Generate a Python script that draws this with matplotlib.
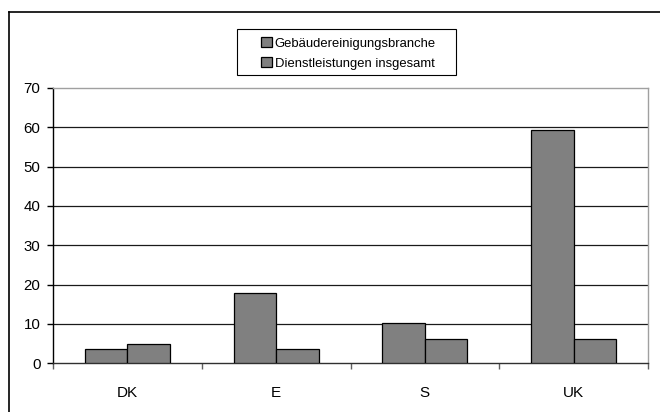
import numpy as np
import matplotlib
matplotlib.use('Agg')
import matplotlib.pyplot as plt
from matplotlib.lines import Line2D
from matplotlib.patches import Rectangle

plt.rcParams['font.family'] = ['Liberation Sans', 'DejaVu Sans']

# data
laender = ['DK', 'E', 'S', 'UK']
gebaeude = [3.6, 17.8, 10.3, 59.4]
dienst = [4.9, 3.6, 6.3, 6.3]
serien = ['Gebäudereinigungsbranche', 'Dienstleistungen insgesamt']
yticks = [0, 10, 20, 30, 40, 50, 60, 70]

W, H = 660, 412
fig = plt.figure(figsize=(W/100, H/100), dpi=100)
ax = fig.add_axes([53/W, 1-363.3/H, (648-53)/W, (363.3-88)/H])

x = np.arange(len(laender))
bw = 0.285
ax.bar(x-bw/2, gebaeude, bw, color='#808080', edgecolor='black', linewidth=0.9,
       label=serien[0], zorder=3)
ax.bar(x+bw/2, dienst, bw, color='#808080', edgecolor='black', linewidth=0.9,
       label=serien[1], zorder=3)

ax.set_xlim(-0.5, len(laender)-0.5)
ax.set_ylim(0, 70)
ax.set_yticks(yticks)
ax.set_yticklabels([str(v) for v in yticks], fontsize=10.8)

# labels at category centres, tick marks between categories
ax.set_xticks(x)
ax.set_xticklabels(laender, fontsize=11)
ax.tick_params(axis='x', which='major', length=0, pad=16)
ax.set_xticks(np.arange(-0.5, len(laender)), minor=True)
ax.tick_params(axis='x', which='minor', length=4, width=1, color='#606060', direction='out')
ax.tick_params(axis='y', length=4, width=1, color='black', direction='out', pad=5)

for v in yticks[1:-1]:
    ax.axhline(v, color='#1a1a1a', linewidth=0.9, zorder=1)

ax.spines['top'].set_color('#a0a0a0')
ax.spines['right'].set_color('#a0a0a0')
ax.spines['left'].set_color('black')
ax.spines['bottom'].set_color('#303030')
for s in ax.spines.values():
    s.set_linewidth(1.0)

# legend without own frame, box drawn separately (wider side padding)
leg = fig.legend(loc='center', bbox_to_anchor=(348.5/W, 1-53.5/H), fontsize=9.4,
                 frameon=False, handlelength=0.8, handleheight=0.8,
                 handletextpad=0.25, labelspacing=0.6, borderpad=0, borderaxespad=0)
fig.add_artist(Rectangle((237/W, 1-75/H), (456-237)/W, (75-29)/H, fill=False,
                         edgecolor='black', linewidth=0.8, transform=fig.transFigure))

# outer frame, only left and top edges are visible in the picture
fig.add_artist(Line2D([9/W, 9/W], [0, 1-11.7/H], color='black', linewidth=1.2,
                      transform=fig.transFigure))
fig.add_artist(Line2D([9/W, 1], [1-11.7/H, 1-11.7/H], color='black', linewidth=1.2,
                      transform=fig.transFigure))

fig.savefig('out.png', dpi=100)
